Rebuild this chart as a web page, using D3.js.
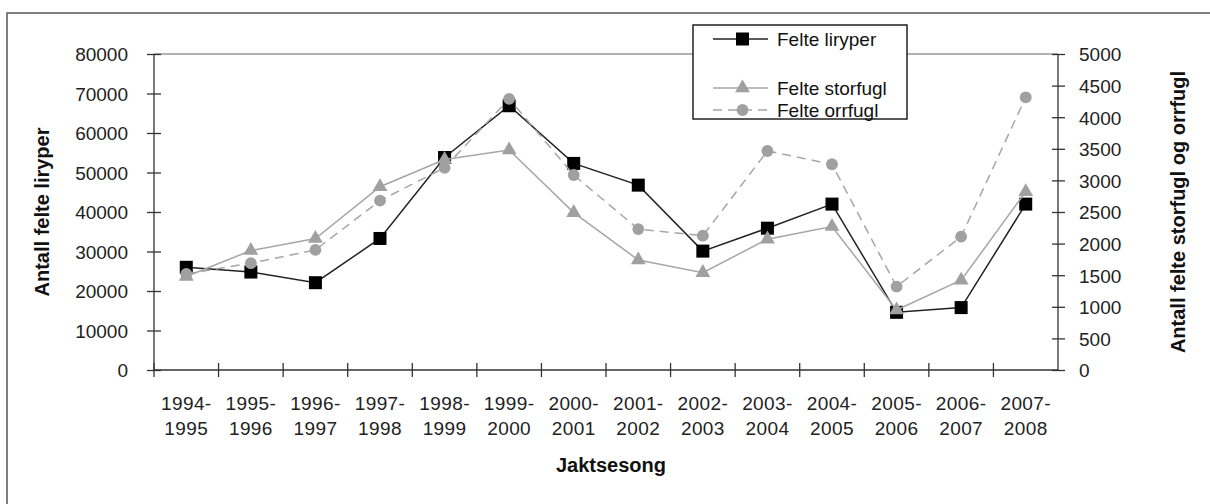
<!DOCTYPE html>
<html>
<head>
<meta charset="utf-8">
<script src="https://cdn.jsdelivr.net/npm/d3@7"></script>
<style>
  body { margin: 0; background: #fff; }
  svg { display: block; font-family: "Liberation Sans", Arial, sans-serif; }
  .tick text { fill: #222; font-size: 19px; }
  .axis path, .axis line { stroke: #333; stroke-width: 1.3; }
  .title { font-weight: bold; font-size: 20px; fill: #111; }
</style>
</head>
<body>
<div id="chart"><svg></svg></div>
<script>
var seasons = ["1994-1995", "1995-1996", "1996-1997", "1997-1998", "1998-1999", "1999-2000", "2000-2001",
  "2001-2002", "2002-2003", "2003-2004", "2004-2005", "2005-2006", "2006-2007", "2007-2008"];
var liryper = [26000, 24800, 22100, 33300, 53800, 66900, 52300, 46800, 30100, 35900, 42000, 14600, 15800, 42000];
var storfugl = [1480, 1890, 2080, 2900, 3330, 3480, 2490, 1740, 1540, 2070, 2270, 950, 1420, 2820];
var orrfugl = [1520, 1690, 1900, 2680, 3200, 4290, 3085, 2230, 2125, 3465, 3255, 1320, 2110, 4315];
var leftTicks = [0, 10000, 20000, 30000, 40000, 50000, 60000, 70000, 80000];
var rightTicks = [0, 500, 1000, 1500, 2000, 2500, 3000, 3500, 4000, 4500, 5000];
var legendNames = ["Felte liryper", "Felte storfugl", "Felte orrfugl"];

var W = 1210, H = 504;
var plot = { left: 154, right: 1058, top: 54, bottom: 370 };

var svg = d3.select("#chart svg").attr("width", W).attr("height", H);

// outer chart border (only top/left visible in the crop)
svg.append("rect").
  attr("x", 7).attr("y", 13).
  attr("width", W + 20).attr("height", H + 20).
  attr("fill", "none").attr("stroke", "#555").attr("stroke-width", 1.5);

var x = d3.scaleBand().domain(seasons).range([plot.left, plot.right]);
var yL = d3.scaleLinear().domain([0, 80000]).range([plot.bottom, plot.top]);
var yR = d3.scaleLinear().domain([0, 5000]).range([plot.bottom, plot.top]);
var cx = function(d, i) { return x(seasons[i]) + x.bandwidth() / 2; };

// top border of plot area
svg.append("line").
  attr("x1", plot.left).attr("x2", plot.right).
  attr("y1", plot.top).attr("y2", plot.top).
  attr("stroke", "#999").attr("stroke-width", 1.3);

// left axis
var gL = svg.append("g").attr("class", "axis").
  attr("transform", "translate(" + plot.left + ",0)").
  call(d3.axisLeft(yL).tickValues(leftTicks).tickSize(7).tickPadding(19).tickFormat(d3.format("d")));
gL.selectAll(".tick line").attr("x2", 7).attr("x1", -7);
gL.select(".domain").attr("d", "M0," + plot.top + "V" + plot.bottom);
gL.selectAll(".tick text").attr("dy", "0.36em");

// right axis
var gR = svg.append("g").attr("class", "axis").
  attr("transform", "translate(" + plot.right + ",0)").
  call(d3.axisRight(yR).tickValues(rightTicks).tickSize(7).tickPadding(14).tickFormat(d3.format("d")));
gR.selectAll(".tick line").attr("x1", -6).attr("x2", 7);
gR.select(".domain").attr("d", "M0," + plot.top + "V" + plot.bottom);
gR.selectAll(".tick text").attr("dy", "0.36em");

// bottom axis: labels at category centres, tick marks between categories
var gX = svg.append("g").attr("class", "axis").
  attr("transform", "translate(0," + plot.bottom + ")").
  call(d3.axisBottom(x).tickSize(0).tickPadding(0));
gX.select(".domain").attr("d", "M" + plot.left + ",0H" + plot.right);
gX.selectAll(".tick text").each(function(d) {
  var parts = d.split("-");
  var t = d3.select(this).text(null).attr("y", 0).attr("dy", null).attr("letter-spacing", "0.4px");
  t.append("tspan").attr("x", 0).attr("y", 40).text(parts[0] + "-");
  t.append("tspan").attr("x", 0).attr("y", 65).text(parts[1]);
});
gX.selectAll(".bound").
  data(seasons).
  enter().append("line").
  attr("x1", function(d) { return x(d); }).
  attr("x2", function(d) { return x(d); }).
  attr("y1", -7).attr("y2", 7);

// series
var line = function(scale) {
  return d3.line().
    x(function(d, i) { return cx(d, i); }).
    y(function(d) { return scale(d); });
};

svg.append("path").datum(liryper).
  attr("d", line(yL)).attr("fill", "none").
  attr("stroke", "#222").attr("stroke-width", 1.5);
svg.append("g").selectAll("rect").data(liryper).enter().append("rect").
  attr("x", function(d, i) { return cx(d, i) - 6.5; }).
  attr("y", function(d) { return yL(d) - 6.5; }).
  attr("width", 13).attr("height", 13).attr("fill", "#000");

var tri = d3.symbol().type(d3.symbolTriangle).size(95);
var circ = d3.symbol().type(d3.symbolCircle).size(110);

svg.append("path").datum(storfugl).
  attr("d", line(yR)).attr("fill", "none").
  attr("stroke", "#a6a6a6").attr("stroke-width", 1.5);
svg.append("g").selectAll("path").data(storfugl).enter().append("path").
  attr("d", tri).
  attr("transform", function(d, i) { return "translate(" + cx(d, i) + "," + yR(d) + ")"; }).
  attr("fill", "#a0a0a0");

svg.append("path").datum(orrfugl).
  attr("d", line(yR)).attr("fill", "none").
  attr("stroke", "#a6a6a6").attr("stroke-width", 1.5).
  attr("stroke-dasharray", "9,6");
svg.append("g").selectAll("path").data(orrfugl).enter().append("path").
  attr("d", circ).
  attr("transform", function(d, i) { return "translate(" + cx(d, i) + "," + yR(d) + ")"; }).
  attr("fill", "#a0a0a0");

// axis titles
svg.append("text").attr("class", "title").
  attr("transform", "translate(49," + ((plot.top + plot.bottom) / 2) + ") rotate(-90)").
  attr("text-anchor", "middle").text("Antall felte liryper");
svg.append("text").attr("class", "title").
  attr("transform", "translate(1185," + ((plot.top + plot.bottom) / 2) + ") rotate(-90)").
  attr("text-anchor", "middle").text("Antall felte storfugl og orrfugl");
svg.append("text").attr("class", "title").
  attr("x", (plot.left + plot.right) / 2 + 5).attr("y", 472).
  attr("font-size", "21px").
  attr("text-anchor", "middle").text("Jaktsesong");

// legend
var leg = svg.append("g").attr("transform", "translate(693,25)");
leg.append("rect").attr("width", 214).attr("height", 94).
  attr("fill", "#fff").attr("stroke", "#222").attr("stroke-width", 1.5);
var rows = [
  { name: legendNames[0], y: 14, color: "#222", dash: null, mark: "sq" },
  { name: legendNames[1], y: 63, color: "#a6a6a6", dash: null, mark: "tri" },
  { name: legendNames[2], y: 85, color: "#a6a6a6", dash: "9,6", mark: "circ" }
];
rows.forEach(function(r) {
  leg.append("line").attr("x1", 20).attr("x2", 75).attr("y1", r.y).attr("y2", r.y).
    attr("stroke", r.color).attr("stroke-width", 1.5).attr("stroke-dasharray", r.dash);
  if (r.mark === "sq") {
    leg.append("rect").attr("x", 43).attr("y", r.y - 6.5).attr("width", 13).attr("height", 13).attr("fill", "#000");
  } else {
    leg.append("path").attr("d", r.mark === "tri" ? tri : circ).
      attr("transform", "translate(49.5," + r.y + ")").attr("fill", "#a0a0a0");
  }
  leg.append("text").attr("x", 84).attr("y", r.y).attr("dy", "0.36em").
    attr("font-size", "19px").attr("fill", "#111").text(r.name);
});
</script>
</body>
</html>
